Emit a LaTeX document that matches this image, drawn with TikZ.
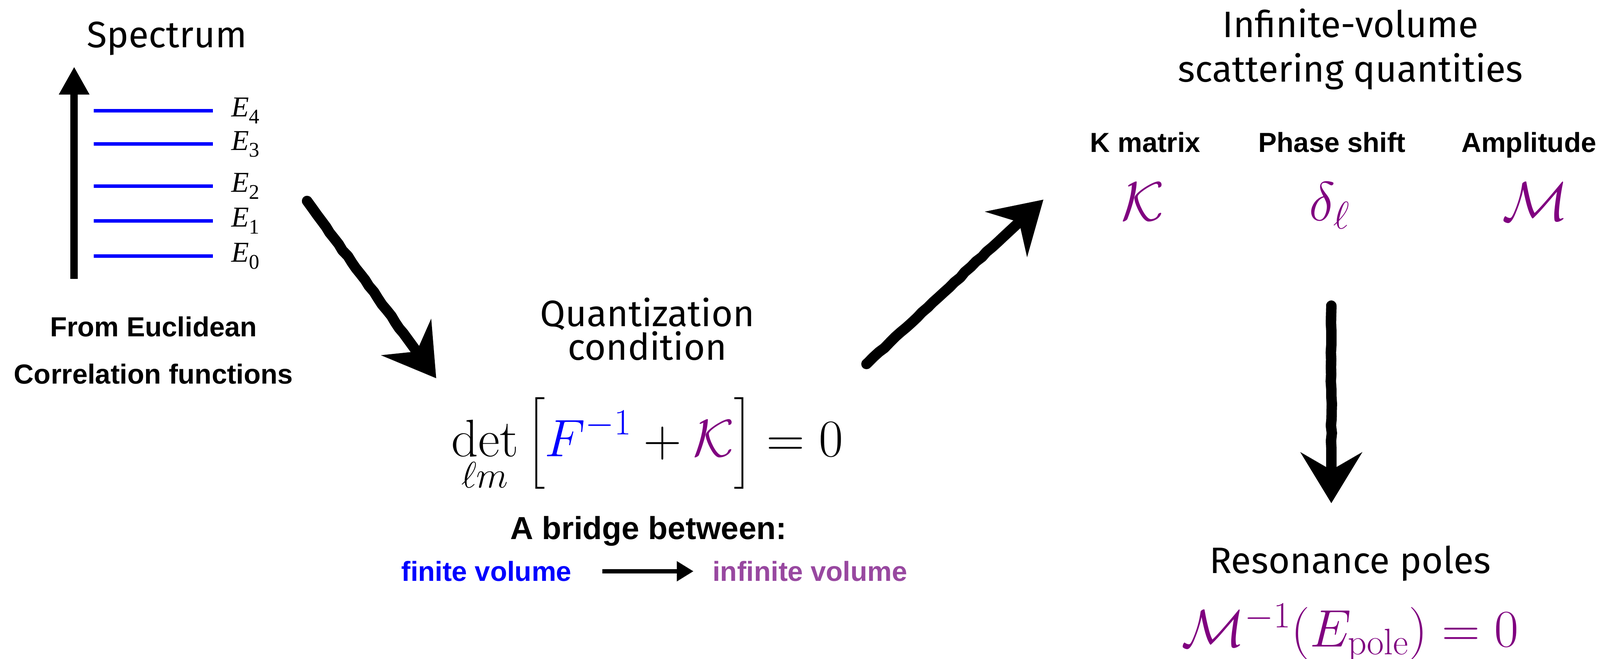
\RequirePackage{fix-cm}
\documentclass[tikz,border=0pt]{standalone}
\usepackage{fontspec}
\usepackage{amsmath}
\usepackage{tikz}
\usetikzlibrary{positioning,arrows.meta,decorations.pathmorphing}
\newfontfamily\labelfont{Liberation Sans}
\newfontfamily\handfont{Fira Sans}
\newfontfamily\timesfont{Liberation Serif}
\definecolor{fvblue}{RGB}{0,0,255}
\definecolor{kpurple}{RGB}{128,0,128}
\definecolor{ivpurple}{RGB}{152,72,160}
\newcommand{\Elev}[1]{\textit{E}\raisebox{-0.2cm}{\fontsize{17}{17}\selectfont #1}}

\begin{document}
\begin{tikzpicture}[
  hand/.style={font=\handfont\fontsize{30}{36}\selectfont, inner sep=0pt, anchor=base, align=center},
  lbl/.style={font=\labelfont\bfseries\fontsize{22.5}{27}\selectfont, inner sep=0pt, anchor=base, #1},
  lbl/.default=black,
  sym/.style={font=\fontsize{45}{54}\selectfont, text=kpurple, inner sep=0pt, anchor=base},
  elab/.style={font=\timesfont\fontsize{23.5}{28}\selectfont, inner sep=0pt, anchor=base west},
  level/.style={draw=fvblue, line width=0.1cm},
  sketch/.style={line width=0.3cm, line join=round, line cap=round,
                 -{Stealth[length=1.45cm, width=1.75cm, inset=0.5cm]},
                 decorate, decoration={random steps, segment length=6pt, amplitude=0.45pt,
                                       pre length=2pt, post length=1.6cm}},
]
\useasboundingbox (0,0) rectangle (45.85,18.88);

% spectrum
\node[hand] (spec) at (4.78,17.52) {Spectrum};
\coordinate (axlo) at (2.125,10.89);
\coordinate (axhi) at (2.125,16.97);
\draw[line width=0.21cm, -{Triangle[length=0.8cm, width=0.82cm]}] (axlo) -- (axhi);
\foreach \y/\n in {15.71/4, 14.75/3, 13.55/2, 12.55/1, 11.54/0} {
  \draw[level] (2.69,\y) -- (6.10,\y);
  \node[elab] (e\n) at (6.63,\y-0.17) {\Elev{\n}};
}
\node[lbl] (eucl) at (4.40,9.24) {From Euclidean};
\node[lbl] (corr) at (4.40,7.88) {Correlation functions};

% quantization condition
\node[hand, font=\handfont\fontsize{30}{27.3}\selectfont] (quant) at (18.55,8.57) {Quantization\\condition};
\node[anchor=base, inner sep=0pt] (qc) at (18.55,5.80)
  {\fontsize{43}{50}\selectfont$\displaystyle\det_{\ell m}\Big[\textcolor{fvblue}{F^{-1}}+\textcolor{kpurple}{\mathcal{K}}\Big]=0$};
\node[lbl, font=\labelfont\bfseries\fontsize{26}{31}\selectfont] (bridge) at (18.58,3.43) {A bridge between:};
\node[lbl=fvblue] (fin) at (13.94,2.23) {finite volume};
\node[lbl=ivpurple] (infin) at (23.21,2.23) {infinite volume};
\draw[line width=0.12cm, -{Triangle[length=0.48cm, width=0.55cm]}, shorten <=0.88cm, shorten >=0.54cm]
  ([yshift=0.28cm]fin.base east) -- ([yshift=0.28cm]infin.base west);

% scattering quantities
\node[hand, font=\handfont\fontsize{30}{36.1}\selectfont] (scat) at (38.70,16.54) {Infinite-volume\\scattering quantities};
\node[lbl] (kmlab) at (32.82,14.52) {K matrix};
\node[lbl] (pslab) at (38.17,14.52) {Phase shift};
\node[lbl] (amlab) at (43.81,14.52) {Amplitude};
\node[sym] (kmat) at (32.75,12.56) {$\mathcal{K}$};
\node[sym] (phase) at (38.10,12.56) {$\delta_\ell$};
\node[sym] (ampl) at (44.00,12.56) {$\mathcal{M}$};

% resonance poles
\node[hand] (reso) at (38.69,2.45) {Resonance poles};
\node[anchor=base, inner sep=0pt, text=kpurple] (pole) at (38.69,0.35)
  {\fontsize{43}{50}\selectfont$\mathcal{M}^{-1}(E_{\mathrm{pole}})=0$};

% sketched arrows
\coordinate (a1s) at (8.80,13.12);
\coordinate (a1e) at (12.50,8.04);
\coordinate (a2s) at (24.83,8.45);
\coordinate (a2e) at (29.90,13.16);
\coordinate (a3s) at (38.15,10.12);
\coordinate (a3e) at (38.15,4.46);
\draw[sketch] (a1s) -- (a1e);
\draw[sketch] (a2s) -- (a2e);
\draw[sketch] (a3s) -- (a3e);

\end{tikzpicture}
\end{document}
